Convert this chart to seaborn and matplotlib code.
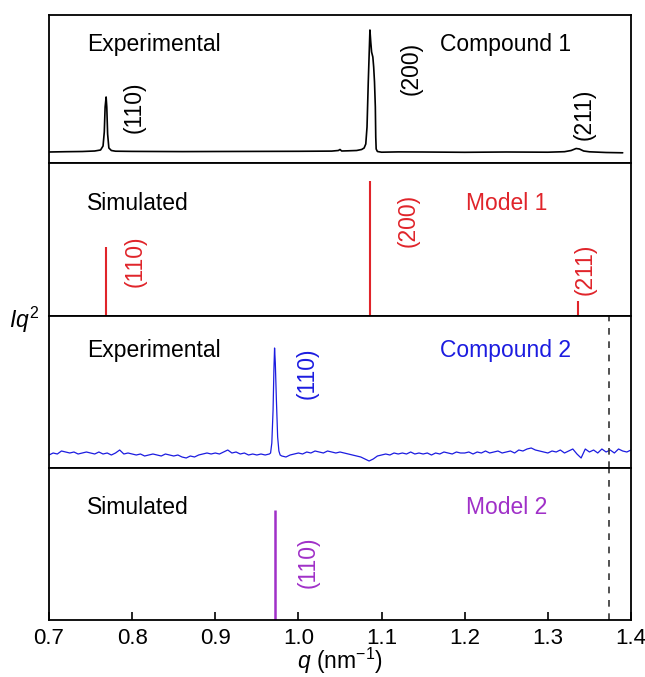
import numpy as np
import pandas as pd
import matplotlib
matplotlib.use("Agg")
import matplotlib.pyplot as plt
import seaborn as sns

# ---------------- data ----------------
q_exp1 = [0.700, 0.720, 0.740, 0.755, 0.762, 0.765, 0.7665, 0.7675, 0.7687, 0.7695,
          0.7705, 0.772, 0.775, 0.780, 0.800, 0.830, 0.860, 0.900, 0.950, 1.000,
          1.040, 1.048, 1.050, 1.052, 1.060, 1.070, 1.076, 1.079, 1.081, 1.0825,
          1.0840, 1.0860, 1.0870, 1.0880, 1.0895, 1.0905, 1.0915, 1.0925, 1.0930, 1.0935,
          1.095, 1.100, 1.120, 1.150, 1.200, 1.250, 1.300, 1.320, 1.328, 1.334,
          1.338, 1.343, 1.350, 1.370, 1.390]
I_exp1 = [0, 0.3, 0.5, 1, 2, 6, 20, 45, 55, 45,
          18, 4, 1.5, 0.8, 0.6, 0.5, 0.4, 0.5, 0.6, 0.7,
          0.9, 1.5, 2.5, 1, 1.2, 1.5, 2.5, 4, 8, 25,
          70, 122, 110, 100, 95, 85, 70, 45, 15, 3,
          0.5, -0.2, 0.1, 0, -0.3, 0, -0.2, 0.3, 1.5, 3.5,
          3, 1, 0.2, -0.5, -0.8]

q_sim1 = [0.7687, 1.0862, 1.336]
I_sim1 = [69, 135, 15]
hkl_sim1 = ["(110)", "(200)", "(211)"]

q_exp2_grid = np.round(np.arange(0.700, 1.4001, 0.005), 3)
I_exp2_grid = [0, 2, 1, 4, 3, 2, 3, 1, 2, 3,
               2, 1, 3, 1, 2, 0, 2, 5, 1, 2,
               1, 0, 1, -1, 0, 1, 0, -1, 1, 0,
               -1, 0, -2, -3, -1, -2, 0, 1, 2, 1,
               2, 1, 3, 5, 2, 3, 1, 2, 0, 1,
               0, 1, 0, 1, 0, 0, -1, -2, 0, 1,
               2, 1, 3, 2, 4, 3, 2, 4, 3, 2,
               3, 2, 1, 0, -1, -2, -4, -6, -4, -1,
               0, 1, 0, 2, 1, 2, 1, 3, 1, 2,
               1, 2, 0, 2, 1, 3, 2, 1, 3, 2,
               2, 3, 1, 3, 2, 4, 2, 3, 4, 2,
               3, 4, 2, 5, 4, 6, 7, 5, 4, 3,
               2, 4, 3, 5, 2, 4, 6, 1, -3, 6,
               3, 5, 2, 6, 3, 5, 2, 6, 4, 3, 5]
q_exp2_peak = [0.9665, 0.9680, 0.9695, 0.9705, 0.9713, 0.9722, 0.9735, 0.9750, 0.9765, 0.9780]
I_exp2_peak = [2, 12, 45, 85, 107, 92, 55, 18, 4, 0]

q_sim2 = [0.9715]
I_sim2 = [110]
hkl_sim2 = ["(110)"]

q_dashed = 1.3733
x_ticks = [0.7, 0.8, 0.9, 1.0, 1.1, 1.2, 1.3, 1.4]

# ---------------- style ----------------
sns.set_style("ticks")
plt.rcParams["font.family"] = ["Liberation Sans", "DejaVu Sans"]
plt.rcParams["mathtext.fontset"] = "custom"
plt.rcParams["mathtext.rm"] = "Liberation Sans"
plt.rcParams["mathtext.it"] = "Liberation Sans:italic"
plt.rcParams["text.color"] = "black"
plt.rcParams["xtick.color"] = "black"
plt.rcParams["axes.edgecolor"] = "black"

RED = "#e0242a"
BLUE = "#1c1ce0"
PURPLE = "#a030c8"
FS = 16.5
TFS = 16

W, H = 645, 677
fig = plt.figure(figsize=(W / 100, H / 100), dpi=100)
left, right = 49, 631
bounds = [15, 163, 316, 468, 620]
axes = []
for i in range(4):
    top, bot = bounds[i], bounds[i + 1]
    ax = fig.add_axes([left / W, 1 - bot / H, (right - left) / W, (bot - top) / H])
    axes.append(ax)

ylims = [(-11, 137), (0, 153), (-13, 139), (0, 152)]

df1 = pd.DataFrame({"q": q_exp1, "I": I_exp1})
g = pd.DataFrame({"q": q_exp2_grid, "I": I_exp2_grid})
g = g[(g.q < 0.966) | (g.q > 0.978)]
df2 = pd.concat([g, pd.DataFrame({"q": q_exp2_peak, "I": I_exp2_peak})]).sort_values("q")

sns.lineplot(data=df1, x="q", y="I", ax=axes[0], color="black", lw=1.2, sort=False, estimator=None)
axes[1].vlines(q_sim1, 0, I_sim1, color=RED, lw=1.5)
sns.lineplot(data=df2, x="q", y="I", ax=axes[2], color=BLUE, lw=0.9, sort=False, estimator=None)
axes[3].vlines(q_sim2, 0, I_sim2, color=PURPLE, lw=1.8)

for ax in axes[2:]:
    ax.axvline(q_dashed, color="#333333", lw=1.2, ls=(0, (4, 4)))

for i, ax in enumerate(axes):
    ax.set_xlim(0.7, 1.4)
    ax.set_ylim(*ylims[i])
    ax.set_yticks([])
    ax.set_xlabel("")
    ax.set_ylabel("")
    for s in ax.spines.values():
        s.set_visible(True)
        s.set_linewidth(1.3)
        s.set_color("black")
    if i < 3:
        ax.set_xticks([])
    else:
        ax.set_xticks(x_ticks)
        ax.set_xticklabels([f"{t:.1f}" for t in x_ticks], fontsize=TFS)
        ax.tick_params(axis="x", direction="in", length=6, width=1.2, pad=6, colors="black")

# panel texts
axes[0].text(0.7454, 107, "Experimental", fontsize=FS, va="center", ha="left")
axes[0].text(1.1698, 107, "Compound 1", fontsize=FS, va="center", ha="left")
for q, y, t in zip([0.8025, 1.135, 1.3435], [45, 84, 38], hkl_sim1):
    axes[0].text(q, y, t, fontsize=FS, rotation=90, va="center", ha="center")

axes[1].text(0.7454, 112, "Simulated", fontsize=FS, va="center", ha="left")
axes[1].text(1.202, 112, "Model 1", fontsize=FS, va="center", ha="left", color=RED)
for q, y, t in zip([0.8035, 1.1325, 1.345], [55, 96, 47], hkl_sim1):
    axes[1].text(q, y, t, fontsize=FS, rotation=90, va="center", ha="center", color=RED)

axes[2].text(0.7454, 105, "Experimental", fontsize=FS, va="center", ha="left")
axes[2].text(1.1698, 105, "Compound 2", fontsize=FS, va="center", ha="left", color=BLUE)
axes[2].text(1.011, 82, hkl_sim2[0], fontsize=FS, rotation=90, va="center", ha="center", color=BLUE)

axes[3].text(0.7454, 112, "Simulated", fontsize=FS, va="center", ha="left")
axes[3].text(1.202, 112, "Model 2", fontsize=FS, va="center", ha="left", color=PURPLE)
axes[3].text(1.012, 58, hkl_sim2[0], fontsize=FS, rotation=90, va="center", ha="center", color=PURPLE)

fig.text(24 / W, 1 - 320 / H, r"$Iq^2$", fontsize=FS, ha="center", va="center")
fig.text((left + right) / 2 / W, 1 - 661 / H, r"$q$ (nm$^{-1}$)", fontsize=FS, ha="center", va="center")

fig.savefig("out.png", dpi=100)
